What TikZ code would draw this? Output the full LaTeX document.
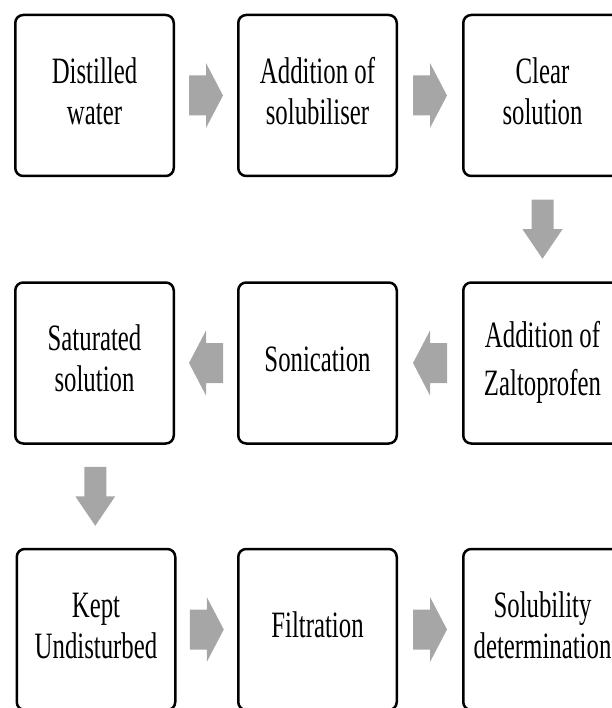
\documentclass[tikz,border=0pt]{standalone}
\usepackage{fontspec}
\setmainfont{Liberation Serif}
\usepackage{graphicx}
\usetikzlibrary{calc}

\definecolor{arrowgray}{RGB}{166,166,166}

\newcommand{\steptext}[1]{\scalebox{1}[1.5]{\begin{tabular}{@{}c@{}}#1\end{tabular}}}

\begin{document}
\begin{tikzpicture}[x=1pt,y=1pt,
	stepbox/.style={draw,line width=2.5pt,rounded corners=8pt,fill=white,
		minimum width=158.5pt,minimum height=161pt,inner sep=0pt,
		font=\fontsize{24.8}{27.3}\selectfont},
	flowright/.pic={\fill[arrowgray] (-17,-20) -- (0,-20) -- (0,-32.5) -- (17,0)
		-- (0,32.5) -- (0,20) -- (-17,20) -- cycle;},
	flowdown/.pic={\fill[arrowgray] (-11,29.5) -- (11,29.5) -- (11,0) -- (20,0)
		-- (0,-29.5) -- (-20,0) -- (-11,0) -- cycle;}]

	\useasboundingbox (0,0) rectangle (611,-708);

	% first row
	\node[stepbox] (dw) at (94.5,-95.5) {\steptext{Distilled\\water}};
	\node[stepbox] (as) at (317.5,-95.5) {\steptext{Addition of\\solubiliser}};
	\node[stepbox] (cs) at (542.5,-95.5) {\steptext{Clear\\solution}};

	% second row
	\node[stepbox] (az) at (542.5,-363) {\steptext{Addition of\\[4.7pt]Zaltoprofen}};
	\node[stepbox] (so) at (317.5,-363) {\steptext{Sonication}};
	\node[stepbox] (ss) at (94.5,-363) {\steptext{Saturated\\solution}};

	% third row
	\node[stepbox] (ku) at (96,-629.5) {\steptext{Kept\\Undisturbed}};
	\node[stepbox] (fi) at (317.5,-629.5) {\steptext{Filtration}};
	\node[stepbox] (sd) at (542.5,-629.5) {\steptext{Solubility\\determination}};

	% block arrows
	\pic at ($(dw.east)!0.5!(as.west)$) {flowright};
	\pic at ($(as.east)!0.5!(cs.west)$) {flowright};
	\pic at ($(cs.south)!0.5!(az.north)$) {flowdown};
	\pic[rotate=180] at ($(az.west)!0.5!(so.east)$) {flowright};
	\pic[rotate=180] at ($(so.west)!0.5!(ss.east)$) {flowright};
	\pic at ($(ss.south)!0.5!(ku.north)$) {flowdown};
	\pic at ($(ku.east)!0.5!(fi.west)$) {flowright};
	\pic at ($(fi.east)!0.5!(sd.west)$) {flowright};
\end{tikzpicture}
\end{document}
